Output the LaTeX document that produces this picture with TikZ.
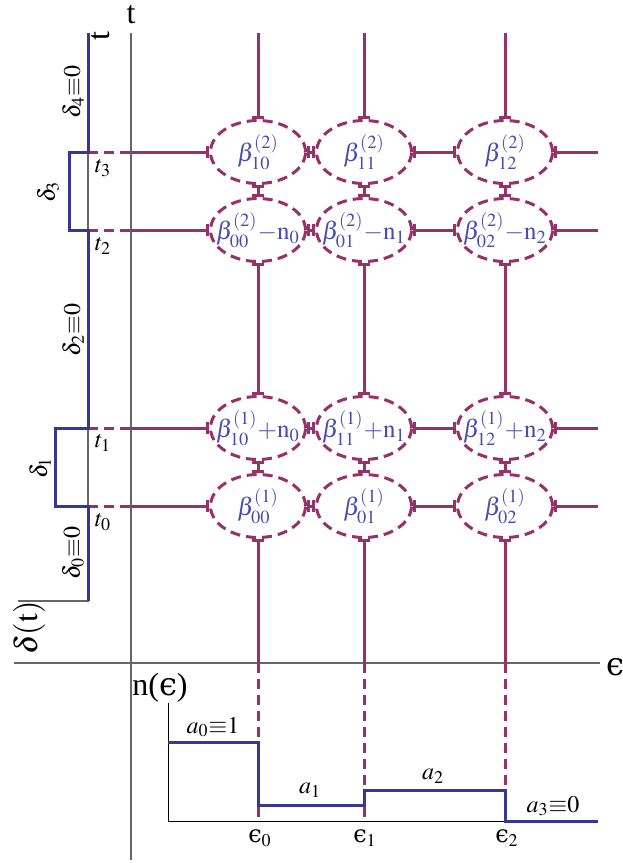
\documentclass[tikz,border=0pt]{standalone}
\usepackage{mathptmx}
\usepackage{fontspec}
\setmainfont{Liberation Serif}
\newfontfamily\lunfont{DejaVu Serif}
\newcommand{\lun}{\mbox{\lunfont ϵ}}
\usetikzlibrary{arrows.meta, shapes.geometric}

\definecolor{purp}{RGB}{150,50,105}
\definecolor{stepblue}{RGB}{55,55,150}
\definecolor{celltext}{RGB}{75,75,175}

\begin{document}
\begin{tikzpicture}[x=0.5pt, y=-0.5pt,
        cell/.style={ellipse, draw=purp, line width=1.5pt, dash pattern=on 5pt off 3pt,
            minimum width=47.5pt, minimum height=31.5pt, inner sep=0pt, text=celltext,
            font=\fontsize{12.5}{14}\selectfont},
        grid/.style={draw=purp, line width=1.5pt},
        griddash/.style={grid, dash pattern=on 5pt off 3pt},
        axis/.style={draw=black!60, line width=0.7pt},
        thinaxis/.style={draw=black, line width=0.5pt},
        stepline/.style={draw=stepblue, line width=1.5pt},
        lbl/.style={font=\fontsize{12}{14}\selectfont, inner sep=1pt},
        biglbl/.style={font=\fontsize{16}{18}\selectfont, inner sep=1pt},
        wall/.tip={Bar[width=6pt]}]

        \useasboundingbox (0,0) rectangle (622,863);

        % Eixos principais
        \coordinate (tTop) at (131,33);
        \coordinate (tBot) at (131,860);
        \coordinate (eL) at (14,663);
        \coordinate (eR) at (600,663);
        \draw[axis] (tTop) -- (tBot);
        \draw[axis] (eL) -- (eR);
        \node (tlab) [biglbl] at (131,15) {t};
        \node (elab) [biglbl] at (615,667) {\lun};

        % Elipses (linhas t3, t2, t1, t0)
        \node (c30) [cell] at (258,152) {\makebox[0pt]{$\beta^{(2)}_{10}$}};
        \node (c31) [cell] at (364,152) {\makebox[0pt]{$\beta^{(2)}_{11}$}};
        \node (c32) [cell] at (505,152) {\makebox[0pt]{$\beta^{(2)}_{12}$}};
        \node (c20) [cell] at (258,230) {\makebox[0pt]{$\beta^{(2)}_{00}{-}\mathrm{n}_0$}};
        \node (c21) [cell] at (364,230) {\makebox[0pt]{$\beta^{(2)}_{01}{-}\mathrm{n}_1$}};
        \node (c22) [cell] at (505,230) {\makebox[0pt]{$\beta^{(2)}_{02}{-}\mathrm{n}_2$}};
        \node (c10) [cell] at (258,428) {\makebox[0pt]{$\beta^{(1)}_{10}{+}\mathrm{n}_0$}};
        \node (c11) [cell] at (364,428) {\makebox[0pt]{$\beta^{(1)}_{11}{+}\mathrm{n}_1$}};
        \node (c12) [cell] at (505,428) {\makebox[0pt]{$\beta^{(1)}_{12}{+}\mathrm{n}_2$}};
        \node (c00) [cell] at (258,506) {\makebox[0pt]{$\beta^{(1)}_{00}$}};
        \node (c01) [cell] at (364,506) {\makebox[0pt]{$\beta^{(1)}_{01}$}};
        \node (c02) [cell] at (505,506) {\makebox[0pt]{$\beta^{(1)}_{02}$}};

        % Pontos das linhas horizontais
        \coordinate (s3) at (88,152);  \coordinate (m3) at (131,152);  \coordinate (r3) at (598,152);
        \coordinate (s2) at (88,230);  \coordinate (m2) at (131,230);  \coordinate (r2) at (598,230);
        \coordinate (s1) at (88,428);  \coordinate (m1) at (131,428);  \coordinate (r1) at (598,428);
        \coordinate (s0) at (88,506);  \coordinate (m0) at (131,506);  \coordinate (r0) at (598,506);

        % Pontos das linhas verticais
        \coordinate (top0) at (258,33);  \coordinate (ax0) at (258,663);  \coordinate (bs0) at (258,821);
        \coordinate (top1) at (364,33);  \coordinate (ax1) at (364,663);  \coordinate (bs1) at (364,821);
        \coordinate (top2) at (505,33);  \coordinate (ax2) at (505,663);  \coordinate (bs2) at (505,821);

        % Linhas horizontais
        \draw[griddash] (s3) -- (m3);
        \draw[grid, -wall] (m3) -- (c30);
        \draw[grid, wall-wall] (c30) -- (c31);
        \draw[grid, wall-wall] (c31) -- (c32);
        \draw[grid, wall-] (c32) -- (r3);
        \draw[griddash] (s2) -- (m2);
        \draw[grid, -wall] (m2) -- (c20);
        \draw[grid, wall-wall] (c20) -- (c21);
        \draw[grid, wall-wall] (c21) -- (c22);
        \draw[grid, wall-] (c22) -- (r2);
        \draw[griddash] (s1) -- (m1);
        \draw[grid, -wall] (m1) -- (c10);
        \draw[grid, wall-wall] (c10) -- (c11);
        \draw[grid, wall-wall] (c11) -- (c12);
        \draw[grid, wall-] (c12) -- (r1);
        \draw[griddash] (s0) -- (m0);
        \draw[grid, -wall] (m0) -- (c00);
        \draw[grid, wall-wall] (c00) -- (c01);
        \draw[grid, wall-wall] (c01) -- (c02);
        \draw[grid, wall-] (c02) -- (r0);

        % Linhas verticais
        \draw[grid, -wall] (top0) -- (c30);
        \draw[grid, wall-wall] (c30) -- (c20);
        \draw[grid, wall-wall] (c20) -- (c10);
        \draw[grid, wall-wall] (c10) -- (c00);
        \draw[grid, wall-] (c00) -- (ax0);
        \draw[griddash] (ax0) -- (bs0);
        \draw[grid, -wall] (top1) -- (c31);
        \draw[grid, wall-wall] (c31) -- (c21);
        \draw[grid, wall-wall] (c21) -- (c11);
        \draw[grid, wall-wall] (c11) -- (c01);
        \draw[grid, wall-] (c01) -- (ax1);
        \draw[griddash] (ax1) -- (bs1);
        \draw[grid, -wall] (top2) -- (c32);
        \draw[grid, wall-wall] (c32) -- (c22);
        \draw[grid, wall-wall] (c22) -- (c12);
        \draw[grid, wall-wall] (c12) -- (c02);
        \draw[grid, wall-] (c02) -- (ax2);
        \draw[griddash] (ax2) -- (bs2);

        % Grafico de delta(t)
        \draw[axis] (88,33) -- (88,601) -- (18,601);
        \draw[stepline] (88,33) -- (88,152) -- (69,152) -- (69,230) -- (88,230)
            -- (88,428) -- (55,428) -- (55,506) -- (88,506) -- (88,601);
        \node (tlab2) [biglbl, rotate=90] at (101,36) {t};
        \node (dlab) [biglbl, rotate=90] at (29,628) {$\delta(\mathrm{t})$};
        \node (d4) [lbl, rotate=90] at (73,92) {$\delta_4{\equiv}0$};
        \node (d3) [lbl, rotate=90] at (48,192) {$\delta_3$};
        \node (d2) [lbl, rotate=90] at (73,330) {$\delta_2{\equiv}0$};
        \node (d1) [lbl, rotate=90] at (40,468) {$\delta_1$};
        \node (d0) [lbl, rotate=90] at (73,553) {$\delta_0{\equiv}0$};
        \node (t3) [lbl] at (103,168) {$t_3$};
        \node (t2) [lbl] at (103,246) {$t_2$};
        \node (t1) [lbl] at (103,443) {$t_1$};
        \node (t0) [lbl] at (103,522) {$t_0$};

        % Grafico de n(epsilon)
        \draw[thinaxis] (168,703) -- (168,821) -- (598,821);
        \draw[stepline] (168,742) -- (258,742) -- (258,805) -- (364,805) -- (364,790)
            -- (505,790) -- (505,821) -- (598,821);
        \node (nlab) [biglbl] at (160,688) {n(\lun)};
        \node (a0) [lbl] at (213,727) {$a_0{\equiv}1$};
        \node (a1) [lbl] at (310,790) {$a_1$};
        \node (a2) [lbl] at (433,776) {$a_2$};
        \node (a3) [lbl] at (553,806) {$a_3{\equiv}0$};
        \node (e0) [lbl] at (260,838) {$\lun_0$};
        \node (e1) [lbl] at (365,838) {$\lun_1$};
        \node (e2) [lbl] at (507,838) {$\lun_2$};

    \end{tikzpicture}
\end{document}
